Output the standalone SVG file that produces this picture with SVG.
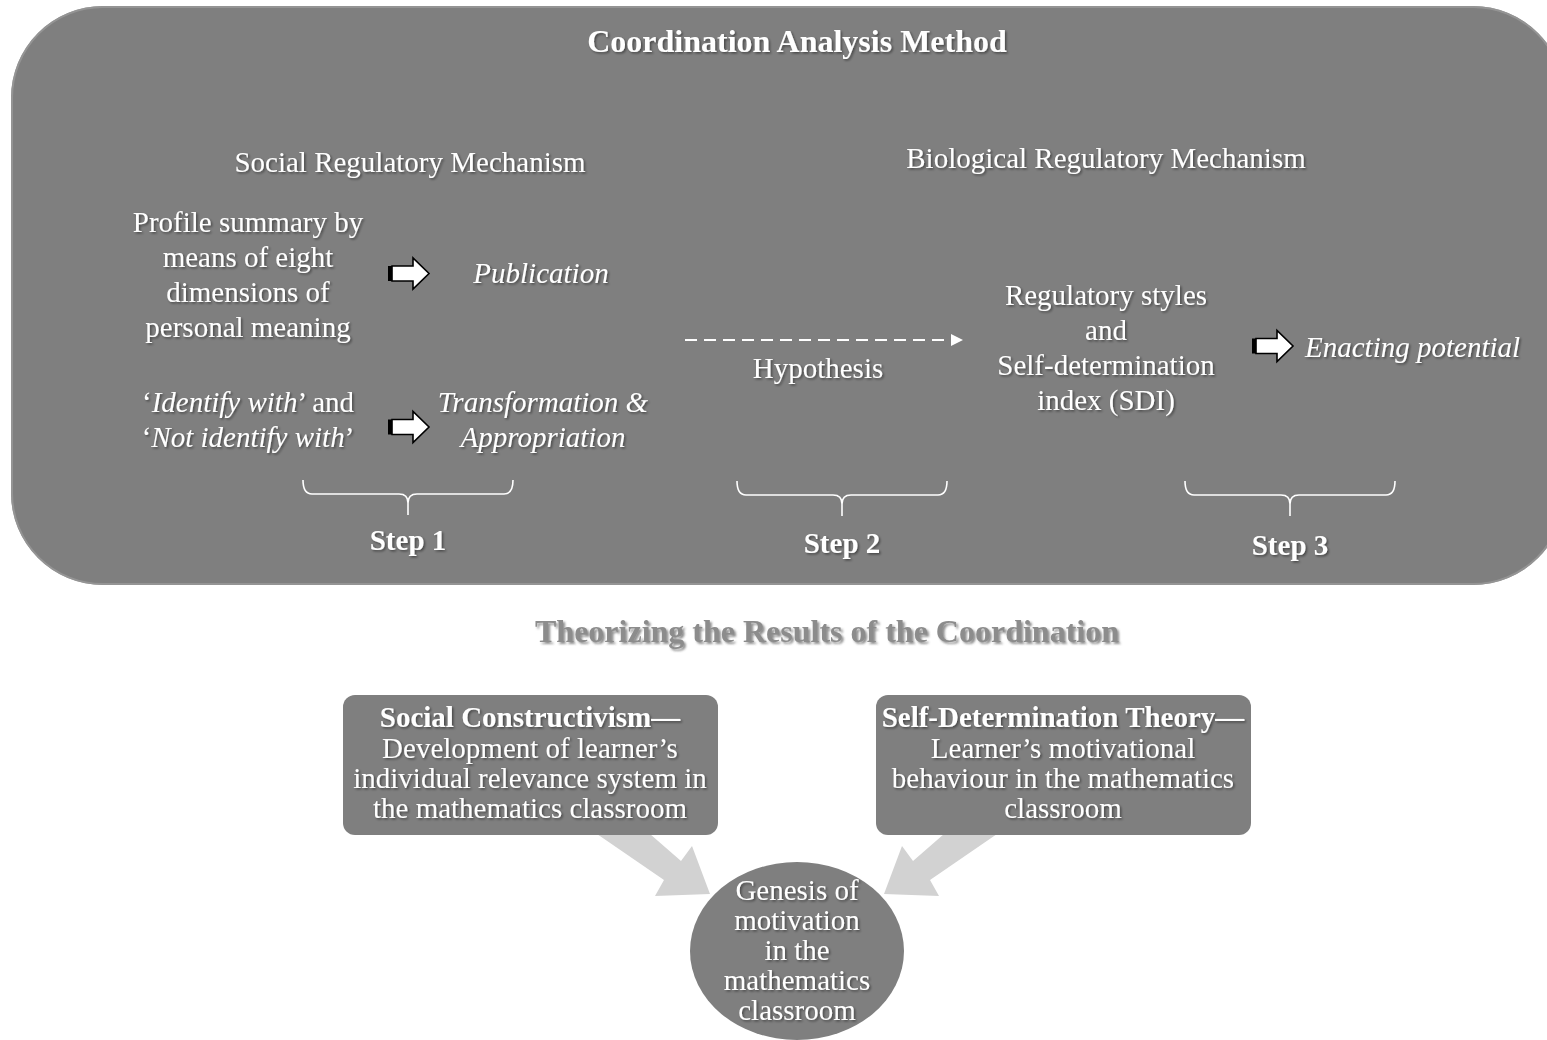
<svg xmlns="http://www.w3.org/2000/svg" width="1547" height="1040" viewBox="0 0 1547 1040">
  <style>
    .t { font-family: "Liberation Serif", "Times New Roman", serif; fill: #ffffff; text-anchor: middle; font-size: 29px; }
    .b { font-weight: bold; }
    .i { font-style: italic; }
    .big { font-size: 32px; }
    .start { text-anchor: start; }
    .sh { filter: url(#ts); }
    .panel { fill: #7f7f7f; }
    .brace { fill: none; stroke: #ffffff; stroke-width: 1.6; }
    .flow { fill: #d2d2d2; }
    .subtitle { fill: #8c8c8c; filter: url(#ts2); }
  </style>
  <defs>
    <filter id="ts" x="-10%" y="-30%" width="120%" height="160%">
      <feDropShadow dx="1.5" dy="1.5" stdDeviation="1" flood-color="#000000" flood-opacity="0.45"/>
    </filter>
    <filter id="ts2" x="-10%" y="-30%" width="120%" height="160%">
      <feDropShadow dx="2" dy="2" stdDeviation="1.2" flood-color="#444444" flood-opacity="0.6"/>
    </filter>
    <!-- block arrow, origin at left-centre -->
    <g id="blockArrow">
      <rect x="0" y="-7.5" width="5" height="15" fill="#000000"/>
      <path d="M4,-7.5 H25 V-15.5 L41,0 L25,15.5 V7.5 H4 Z" fill="#ffffff" stroke="#000000" stroke-width="1.6" stroke-linejoin="miter"/>
    </g>
  </defs>

  <rect width="1547" height="1040" fill="#ffffff"/>

  <!-- upper panel -->
  <g id="method-panel">
    <rect class="panel" x="11" y="6" width="1554" height="579" rx="92" ry="92"/>
    <rect x="12" y="7" width="1552" height="577" rx="91" ry="91" fill="none" stroke="#9a9a9a" stroke-width="2" opacity="0.8"/>
    <text class="t b big sh" x="797" y="52">Coordination Analysis Method</text>
  </g>

  <g id="social-heading">
    <text class="t sh" x="410" y="172">Social Regulatory Mechanism</text>
  </g>
  <g id="biological-heading">
    <text class="t sh" x="1106" y="168">Biological Regulatory Mechanism</text>
  </g>

  <g id="profile-summary">
    <text class="t sh" x="248" y="232">Profile summary by</text>
    <text class="t sh" x="248" y="267">means of eight</text>
    <text class="t sh" x="248" y="302">dimensions of</text>
    <text class="t sh" x="248" y="337">personal meaning</text>
  </g>
  <g id="publication">
    <text class="t i sh" x="541" y="283">Publication</text>
  </g>
  <g id="identify">
    <text class="t sh" x="248" y="412">‘<tspan class="i">Identify with</tspan>’ and</text>
    <text class="t sh" x="248" y="447">‘<tspan class="i">Not identify with</tspan>’</text>
  </g>
  <g id="transformation">
    <text class="t i sh" x="543" y="412">Transformation &amp;</text>
    <text class="t i sh" x="543" y="447">Appropriation</text>
  </g>
  <g id="hypothesis">
    <text class="t sh" x="818" y="378">Hypothesis</text>
  </g>
  <g id="regulatory-styles">
    <text class="t sh" x="1106" y="305">Regulatory styles</text>
    <text class="t sh" x="1106" y="340">and</text>
    <text class="t sh" x="1106" y="375">Self-determination</text>
    <text class="t sh" x="1106" y="410">index (SDI)</text>
  </g>
  <g id="enacting">
    <text class="t i start sh" x="1305" y="357">Enacting potential</text>
  </g>

  <g id="step-1">
    <path class="brace" d="M303,480 Q303,494 312,494 H399 Q408,494 408,503 V515 M408,503 Q408,494 417,494 H504 Q513,494 513,480"/>
    <text class="t b sh" x="408" y="550">Step 1</text>
  </g>
  <g id="step-2">
    <path class="brace" d="M737,481 Q737,495 746,495 H833 Q842,495 842,504 V516 M842,504 Q842,495 851,495 H938 Q947,495 947,481"/>
    <text class="t b sh" x="842" y="553">Step 2</text>
  </g>
  <g id="step-3">
    <path class="brace" d="M1185,481 Q1185,495 1194,495 H1281 Q1290,495 1290,504 V516 M1290,504 Q1290,495 1299,495 H1386 Q1395,495 1395,481"/>
    <text class="t b sh" x="1290" y="555">Step 3</text>
  </g>

  <!-- connectors -->
  <g id="connectors">
    <use href="#blockArrow" transform="translate(388,273.5)"/>
    <use href="#blockArrow" transform="translate(388,427)"/>
    <use href="#blockArrow" transform="translate(1252,346)"/>
    <line x1="685" y1="340" x2="953" y2="340" stroke="#ffffff" stroke-width="2.2" stroke-dasharray="12 7"/>
    <path d="M951,334 L963,340 L951,346 Z" fill="#ffffff"/>
    <path class="flow" d="M597,834 L650,834 L681,861 L692,846 L710,894 L655,896 L664,880 Z"/>
    <path class="flow" d="M997,834 L944,834 L913,861 L902,846 L884,894 L939,896 L930,880 Z"/>
  </g>

  <g id="theorizing-title">
    <text class="t b big subtitle" x="827" y="642">Theorizing the Results of the Coordination</text>
  </g>

  <g id="social-constructivism">
    <rect class="panel" x="343" y="695" width="375" height="140" rx="12"/>
    <text class="t b sh" x="530" y="727">Social Constructivism—</text>
    <text class="t sh" x="530" y="758">Development of learner’s</text>
    <text class="t sh" x="530" y="788">individual relevance system in</text>
    <text class="t sh" x="530" y="818">the mathematics classroom</text>
  </g>

  <g id="self-determination">
    <rect class="panel" x="876" y="695" width="375" height="140" rx="12"/>
    <text class="t b sh" x="1063" y="727">Self-Determination Theory—</text>
    <text class="t sh" x="1063" y="758">Learner’s motivational</text>
    <text class="t sh" x="1063" y="788">behaviour in the mathematics</text>
    <text class="t sh" x="1063" y="818">classroom</text>
  </g>

  <g id="genesis">
    <ellipse class="panel" cx="797" cy="951" rx="107" ry="89"/>
    <text class="t sh" x="797" y="900">Genesis of</text>
    <text class="t sh" x="797" y="930">motivation</text>
    <text class="t sh" x="797" y="960">in the</text>
    <text class="t sh" x="797" y="990">mathematics</text>
    <text class="t sh" x="797" y="1020">classroom</text>
  </g>
</svg>
